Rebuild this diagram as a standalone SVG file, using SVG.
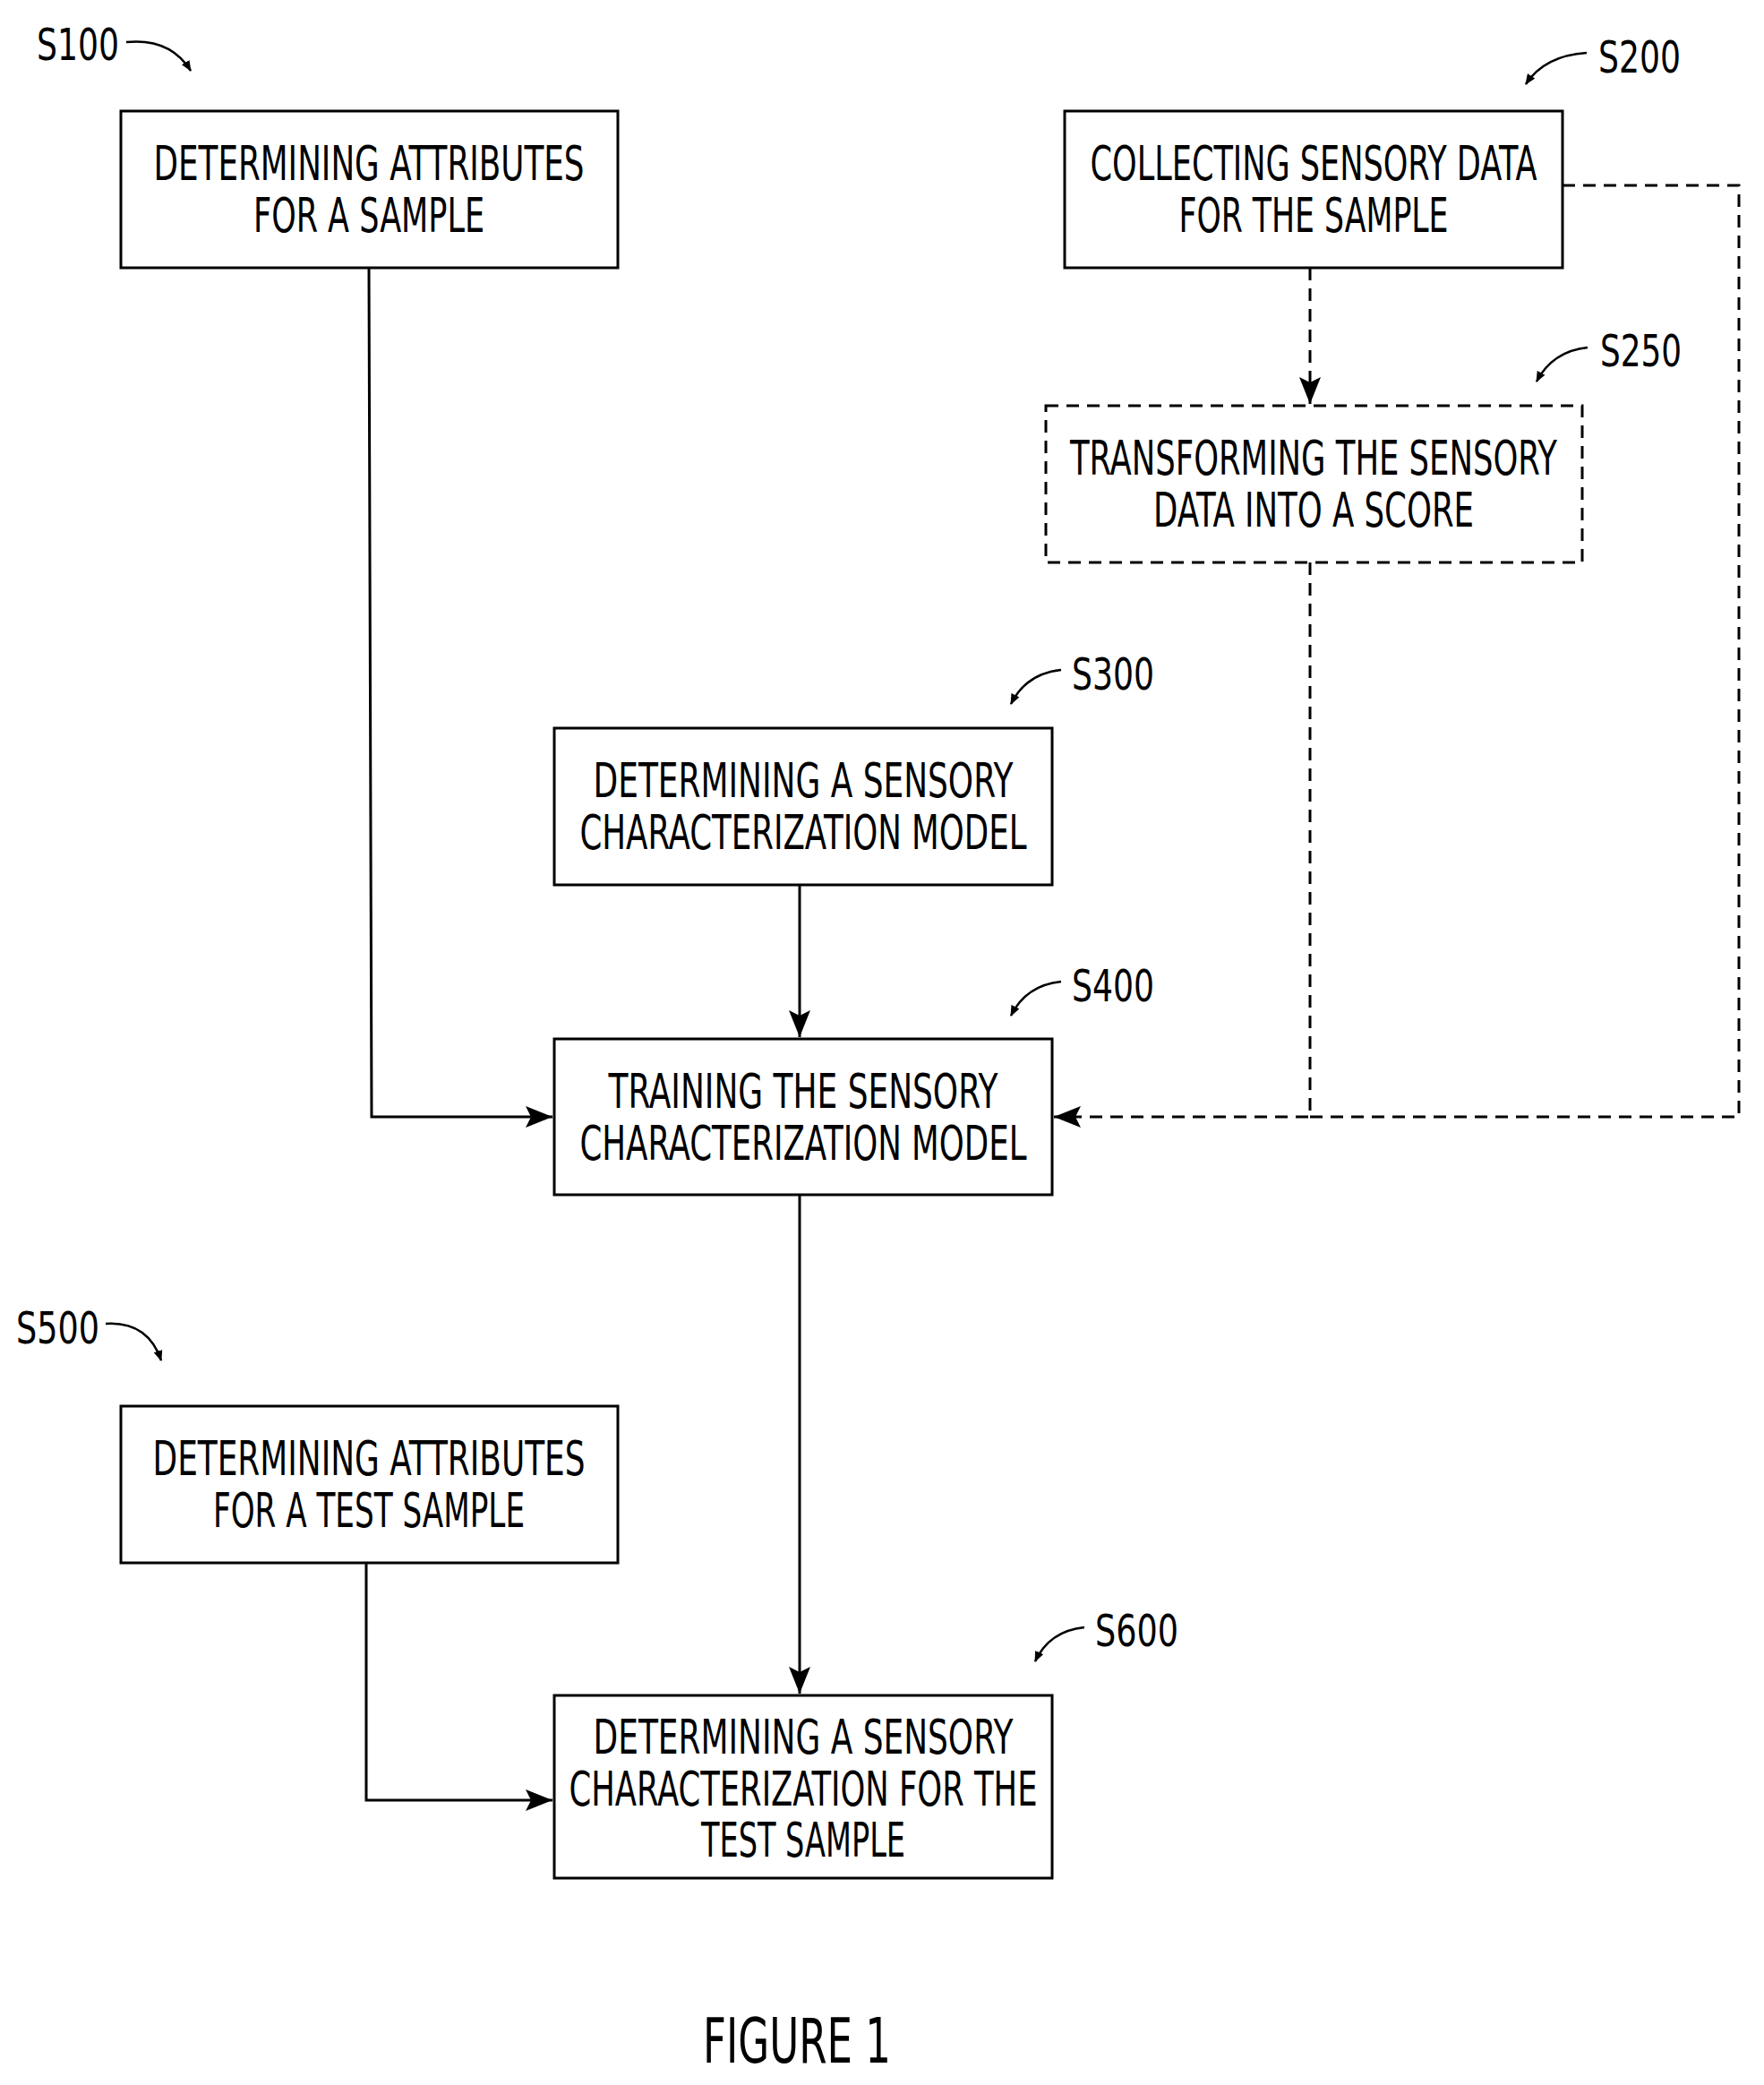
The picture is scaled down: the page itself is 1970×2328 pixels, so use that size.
<svg xmlns="http://www.w3.org/2000/svg" width="1970" height="2328" viewBox="0 0 1970 2328">
<style>
.b{fill:#fff;stroke:#000;stroke-width:3}
.d{stroke-dasharray:14 9}
.t{font-family:"DejaVu Sans Condensed","DejaVu Sans",sans-serif;font-size:54px;text-anchor:middle;fill:#000}
.l{font-family:"DejaVu Sans Condensed","DejaVu Sans",sans-serif;font-size:50px;fill:#000}
.c{fill:none;stroke:#000;stroke-width:3}
.s{fill:none;stroke:#000;stroke-width:2.5}
</style>
<defs>
<marker id="a" markerWidth="12" markerHeight="10" refX="11" refY="5" orient="auto" markerUnits="userSpaceOnUse" viewBox="0 0 12 10"><path d="M0,0 L12,5 L0,10 z"/></marker>
<marker id="A" markerWidth="30" markerHeight="24" refX="30" refY="12" orient="auto" markerUnits="userSpaceOnUse" viewBox="0 0 30 24"><path d="M0,0 L30,12 L0,24 L6,12 z"/></marker>
</defs>
<rect width="1970" height="2328" fill="#fff"/>
<g id="connectors">
<path class="c" d="M412,299 L415,1247 L617,1247" marker-end="url(#A)"/>
<path class="c d" d="M1463,299 L1463,451" marker-end="url(#A)"/>
<path class="c d" d="M1463,628 L1463,1247 L1177,1247" marker-end="url(#A)"/>
<path class="c d" d="M1745,207 L1942,207 L1942,1247 L1463,1247"/>
<path class="c" d="M893,988 L893,1158" marker-end="url(#A)"/>
<path class="c" d="M893,1334 L893,1891" marker-end="url(#A)"/>
<path class="c" d="M409,1745 L409,2010 L617,2010" marker-end="url(#A)"/>
</g>
<g id="S100"><rect class="b" x="135" y="124" width="555" height="175"/>
<text class="t" x="412" y="201" textLength="481" lengthAdjust="spacingAndGlyphs">DETERMINING ATTRIBUTES</text>
<text class="t" x="412" y="259" textLength="258" lengthAdjust="spacingAndGlyphs">FOR A SAMPLE</text>
<text class="l" x="41" y="67" textLength="92" lengthAdjust="spacingAndGlyphs">S100</text>
<path class="s" d="M141,47 Q190,42 213,79" marker-end="url(#a)"/></g>
<g id="S200"><rect class="b" x="1189" y="124" width="556" height="175"/>
<text class="t" x="1467" y="201" textLength="499" lengthAdjust="spacingAndGlyphs">COLLECTING SENSORY DATA</text>
<text class="t" x="1467" y="259" textLength="301" lengthAdjust="spacingAndGlyphs">FOR THE SAMPLE</text>
<text class="l" x="1785" y="81" textLength="92" lengthAdjust="spacingAndGlyphs">S200</text>
<path class="s" d="M1772,59 Q1725,62 1704,94" marker-end="url(#a)"/></g>
<g id="S250"><rect class="b d" x="1168" y="453" width="599" height="175"/>
<text class="t" x="1467" y="530" textLength="544" lengthAdjust="spacingAndGlyphs">TRANSFORMING THE SENSORY</text>
<text class="t" x="1467" y="588" textLength="358" lengthAdjust="spacingAndGlyphs">DATA INTO A SCORE</text>
<text class="l" x="1787" y="409" textLength="91" lengthAdjust="spacingAndGlyphs">S250</text>
<path class="s" d="M1773,388 Q1734,392 1716,426" marker-end="url(#a)"/></g>
<g id="S300"><rect class="b" x="619" y="813" width="556" height="175"/>
<text class="t" x="897" y="890" textLength="469" lengthAdjust="spacingAndGlyphs">DETERMINING A SENSORY</text>
<text class="t" x="897" y="948" textLength="499" lengthAdjust="spacingAndGlyphs">CHARACTERIZATION MODEL</text>
<text class="l" x="1197" y="770" textLength="92" lengthAdjust="spacingAndGlyphs">S300</text>
<path class="s" d="M1185,748 Q1146,752 1129,786" marker-end="url(#a)"/></g>
<g id="S400"><rect class="b" x="619" y="1160" width="556" height="174"/>
<text class="t" x="897" y="1237" textLength="435" lengthAdjust="spacingAndGlyphs">TRAINING THE SENSORY</text>
<text class="t" x="897" y="1295" textLength="499" lengthAdjust="spacingAndGlyphs">CHARACTERIZATION MODEL</text>
<text class="l" x="1197" y="1118" textLength="92" lengthAdjust="spacingAndGlyphs">S400</text>
<path class="s" d="M1185,1096 Q1146,1100 1129,1134" marker-end="url(#a)"/></g>
<g id="S500"><rect class="b" x="135" y="1570" width="555" height="175"/>
<text class="t" x="412" y="1647" textLength="483" lengthAdjust="spacingAndGlyphs">DETERMINING ATTRIBUTES</text>
<text class="t" x="412" y="1705" textLength="348" lengthAdjust="spacingAndGlyphs">FOR A TEST SAMPLE</text>
<text class="l" x="18" y="1500" textLength="93" lengthAdjust="spacingAndGlyphs">S500</text>
<path class="s" d="M118,1478 Q165,1475 180,1519" marker-end="url(#a)"/></g>
<g id="S600"><rect class="b" x="619" y="1893" width="556" height="204"/>
<text class="t" x="897" y="1958" textLength="469" lengthAdjust="spacingAndGlyphs">DETERMINING A SENSORY</text>
<text class="t" x="897" y="2016" textLength="523" lengthAdjust="spacingAndGlyphs">CHARACTERIZATION FOR THE</text>
<text class="t" x="897" y="2073" textLength="228" lengthAdjust="spacingAndGlyphs">TEST SAMPLE</text>
<text class="l" x="1223" y="1838" textLength="93" lengthAdjust="spacingAndGlyphs">S600</text>
<path class="s" d="M1211,1817 Q1172,1821 1156,1855" marker-end="url(#a)"/></g>
<text class="l" x="785" y="2303" style="font-size:70px" textLength="210" lengthAdjust="spacingAndGlyphs">FIGURE 1</text>
</svg>
